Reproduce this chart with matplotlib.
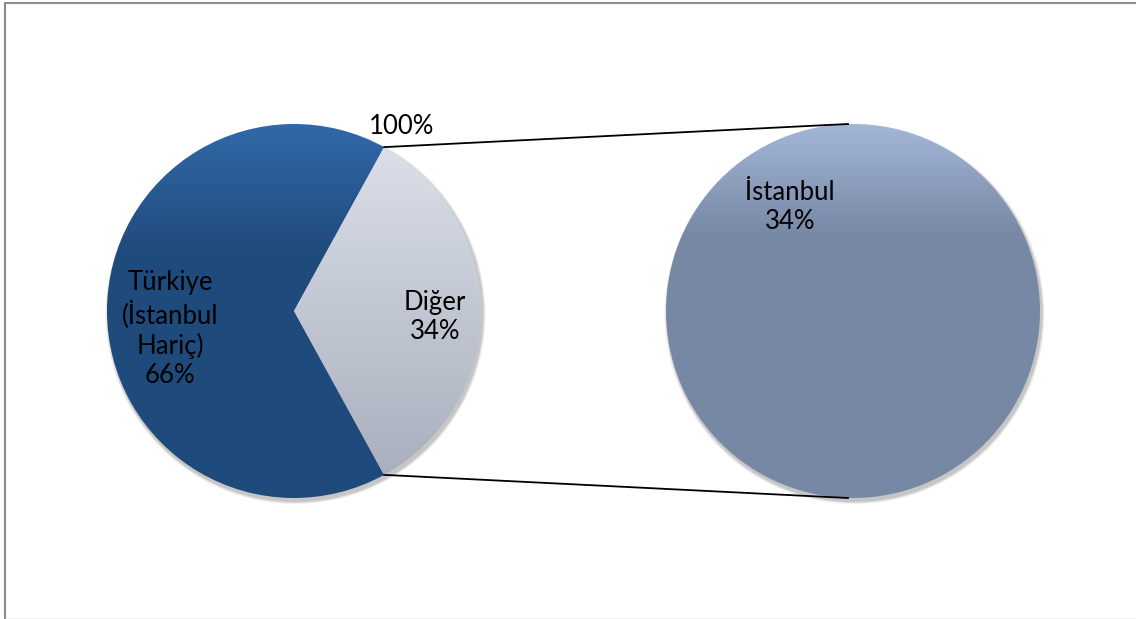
import numpy as np
import matplotlib.pyplot as plt
from matplotlib.colors import LinearSegmentedColormap
from matplotlib.patches import Rectangle, Circle

plt.rcParams['font.family'] = ['Lato', 'DejaVu Sans']

# veriler
main_labels = ['Türkiye\n(İstanbul\nHariç)', 'Diğer']
main_values = [66, 34]
sub_labels = ['İstanbul']
sub_values = [34]

W, H = 1136, 619
fig = plt.figure(figsize=(W / 100, H / 100), dpi=100)
ax = fig.add_axes([0, 0, 1, 1])

# çerçeve
fig.patches.append(Rectangle((5 / W, -2 / H), 1.2, (H - 1) / H, transform=fig.transFigure,
                             fill=False, edgecolor='#8c8c8c', linewidth=1.5))
fig.patches.append(Rectangle((5 / W, 0.5 / H), 1.2, 0, transform=fig.transFigure,
                             fill=False, edgecolor='#e0e0e0', linewidth=1))

r = 187
c1 = (294, H - 311)
c2 = (853, H - 311)


def setup():
    ax.set_xlim(0, W)
    ax.set_ylim(0, H)
    ax.set_aspect('equal')
    ax.axis('off')


def gradient_fill(wedge, center, top_col, bot_col, stops=(0.0, 1.0)):
    cmap = LinearSegmentedColormap.from_list('g', [(stops[0], top_col), (stops[1], bot_col)] +
                                             ([(1.0, bot_col)] if stops[1] < 1.0 else []))
    grad = np.linspace(0, 1, 256).reshape(-1, 1)
    im = ax.imshow(grad, cmap=cmap, aspect='auto', origin='upper',
                   extent=(center[0] - r, center[0] + r, center[1] - r, center[1] + r), zorder=2)
    im.set_clip_path(wedge)
    wedge.set_facecolor('none')


# gölgeler
for cc in (c1, c2):
    for k, a in enumerate([0.10, 0.08, 0.06]):
        ax.add_patch(Circle((cc[0] + 1.5, cc[1] - 3), r + 1 + k, color='#000000', alpha=a,
                            linewidth=0, zorder=1))

start = main_values[1] / sum(main_values) * 360 / 2
w1, _ = ax.pie(main_values, center=c1, radius=r, startangle=start, counterclock=True,
               wedgeprops=dict(linewidth=0))
setup()
gradient_fill(w1[0], c1, '#3268a8', '#1f4a7c', stops=(0.0, 0.35))
gradient_fill(w1[1], c1, '#dde2ec', '#a6acb9')

w2, _ = ax.pie(sub_values, center=c2, radius=r, startangle=90, wedgeprops=dict(linewidth=0))
setup()
gradient_fill(w2[0], c2, '#a3b6d6', '#7788a5', stops=(0.0, 0.3))

# bağlantı çizgileri
ang = np.deg2rad(start)
p_top = (c1[0] + r * np.cos(ang), c1[1] + r * np.sin(ang))
p_bot = (c1[0] + r * np.cos(ang), c1[1] - r * np.sin(ang))
ax.plot([p_top[0], c2[0] - 5], [p_top[1], c2[1] + r], color='black', lw=1.3, zorder=3)
ax.plot([p_bot[0], c2[0] - 5], [p_bot[1], c2[1] - r], color='black', lw=1.3, zorder=3)

# etiketler
fs = 18.5
tot = sum(main_values)
ax.text(170, H - 329, f'{main_labels[0]}\n{main_values[0] * 100 // tot}%', ha='center', va='center',
        fontsize=fs, linespacing=1.22, zorder=4)
ax.text(435, H - 317, f'{main_labels[1]}\n{main_values[1] * 100 // tot}%', ha='center', va='center',
        fontsize=fs, linespacing=1.22, zorder=4)
ax.text(790, H - 207, f'{sub_labels[0]}\n{sub_values[0]}%', ha='center', va='center',
        fontsize=fs, linespacing=1.22, zorder=4)
ax.text(402, H - 126, '100%', ha='center', va='center', fontsize=fs, zorder=4)

fig.savefig('out.png', dpi=100)
